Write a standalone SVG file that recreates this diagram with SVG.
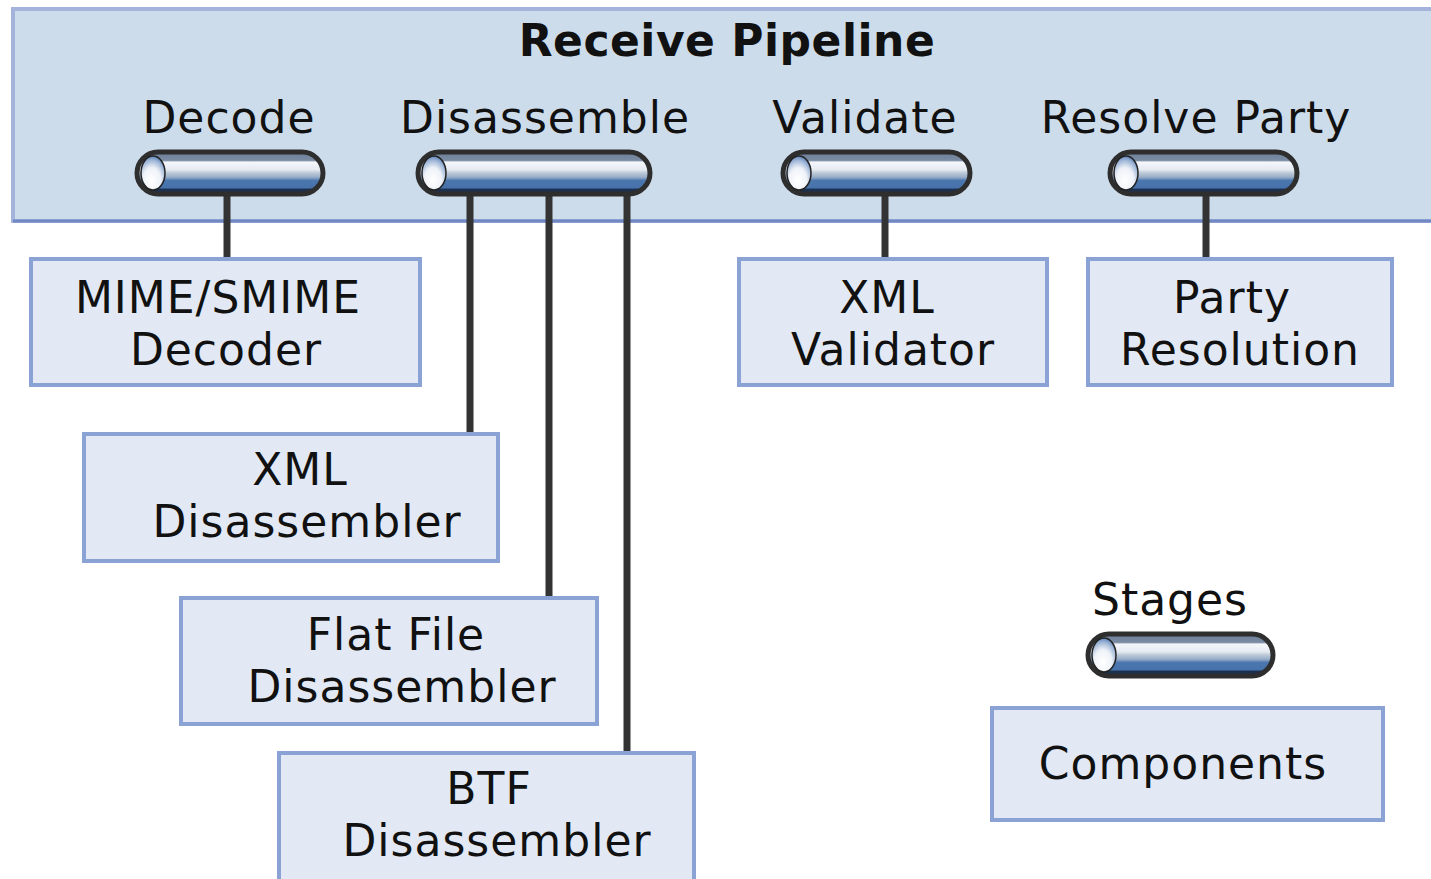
<svg xmlns="http://www.w3.org/2000/svg" width="1431" height="879" viewBox="0 0 1431 879">
<defs>
<linearGradient id="barg" x1="0" y1="0" x2="0" y2="1">
<stop offset="0" stop-color="#6c7f98"/>
<stop offset="0.2" stop-color="#7a8ca4"/>
<stop offset="0.24" stop-color="#f4f6fa"/>
<stop offset="0.42" stop-color="#e6ebf2"/>
<stop offset="0.5" stop-color="#bcc8d6"/>
<stop offset="0.6" stop-color="#98aec8"/>
<stop offset="0.68" stop-color="#4b76ae"/>
<stop offset="0.86" stop-color="#4672ac"/>
<stop offset="0.88" stop-color="#1c3050"/>
<stop offset="1" stop-color="#1c3050"/>
</linearGradient>
<radialGradient id="capg" cx="0.45" cy="0.72" r="0.75">
<stop offset="0" stop-color="#ffffff"/>
<stop offset="0.5" stop-color="#eef2f8"/>
<stop offset="0.8" stop-color="#9db4d6"/>
<stop offset="1" stop-color="#4a76b0"/>
</radialGradient>
</defs>
<style>
.lbl{font-family:"DejaVu Sans",Verdana,sans-serif;font-size:44px;fill:#111;text-anchor:middle;letter-spacing:1px}
.ttl{font-family:"DejaVu Sans",Verdana,sans-serif;font-size:44px;font-weight:bold;fill:#111;text-anchor:middle;letter-spacing:0.5px}
.comp{fill:#e2e9f5;stroke:#8aa2d4;stroke-width:4}
.conn{stroke:#333333;stroke-width:7;fill:none}
.bar{fill:url(#barg);stroke:#2e2e2e;stroke-width:5}
.cap{fill:url(#capg);stroke:#222;stroke-width:1.5}
</style>
<rect width="1431" height="879" fill="#ffffff"/>
<g id="pipeline">
<rect x="13" y="9" width="1430" height="212" fill="#cddceb" stroke="#a3b3dc" stroke-width="4"/>
<line x1="13" y1="221" x2="1431" y2="221" stroke="#7088c4" stroke-width="3"/>
<text class="ttl" x="727" y="56">Receive Pipeline</text>
</g>
<g id="connectors">
<line class="conn" x1="227" y1="192" x2="227" y2="258"/>
<line class="conn" x1="470" y1="192" x2="470" y2="433"/>
<line class="conn" x1="549" y1="192" x2="549" y2="597"/>
<line class="conn" x1="627" y1="192" x2="627" y2="752"/>
<line class="conn" x1="885" y1="192" x2="885" y2="258"/>
<line class="conn" x1="1206" y1="192" x2="1206" y2="258"/>
</g>
<g id="stage-decode">
<text class="lbl" x="229" y="133">Decode</text>
<rect class="bar" x="137" y="152" width="186" height="42" rx="21"/>
<ellipse class="cap" cx="153" cy="173" rx="12" ry="17"/>
</g>
<g id="stage-disassemble">
<text class="lbl" x="545" y="133">Disassemble</text>
<rect class="bar" x="418" y="152" width="232" height="42" rx="21"/>
<ellipse class="cap" cx="434" cy="173" rx="12" ry="17"/>
</g>
<g id="stage-validate">
<text class="lbl" x="865" y="133">Validate</text>
<rect class="bar" x="783" y="152" width="187" height="42" rx="21"/>
<ellipse class="cap" cx="799" cy="173" rx="12" ry="17"/>
</g>
<g id="stage-resolve">
<text class="lbl" x="1196" y="133">Resolve Party</text>
<rect class="bar" x="1110" y="152" width="187" height="42" rx="21"/>
<ellipse class="cap" cx="1126" cy="173" rx="12" ry="17"/>
</g>
<g id="comp-mime">
<rect class="comp" x="31" y="259" width="389" height="126"/>
<text class="lbl" x="218" y="313">MIME/SMIME</text>
<text class="lbl" x="226" y="365">Decoder</text>
</g>
<g id="comp-xmldis">
<rect class="comp" x="84" y="434" width="414" height="127"/>
<text class="lbl" x="300" y="485">XML</text>
<text class="lbl" x="307" y="537">Disassembler</text>
</g>
<g id="comp-flat">
<rect class="comp" x="181" y="598" width="416" height="126"/>
<text class="lbl" x="396" y="650">Flat File</text>
<text class="lbl" x="402" y="702">Disassembler</text>
</g>
<g id="comp-btf">
<rect class="comp" x="279" y="753" width="415" height="140"/>
<text class="lbl" x="489" y="804">BTF</text>
<text class="lbl" x="497" y="856">Disassembler</text>
</g>
<g id="comp-xmlval">
<rect class="comp" x="739" y="259" width="308" height="126"/>
<text class="lbl" x="887" y="313">XML</text>
<text class="lbl" x="893" y="365">Validator</text>
</g>
<g id="comp-party">
<rect class="comp" x="1088" y="259" width="304" height="126"/>
<text class="lbl" x="1232" y="313">Party</text>
<text class="lbl" x="1240" y="365">Resolution</text>
</g>
<g id="legend-stages">
<text class="lbl" x="1170" y="615">Stages</text>
<rect class="bar" x="1088" y="634" width="185" height="42" rx="21"/>
<ellipse class="cap" cx="1104" cy="655" rx="12" ry="17"/>
</g>
<g id="legend-components">
<rect class="comp" x="992" y="708" width="391" height="112"/>
<text class="lbl" x="1183" y="779">Components</text>
</g>
</svg>
